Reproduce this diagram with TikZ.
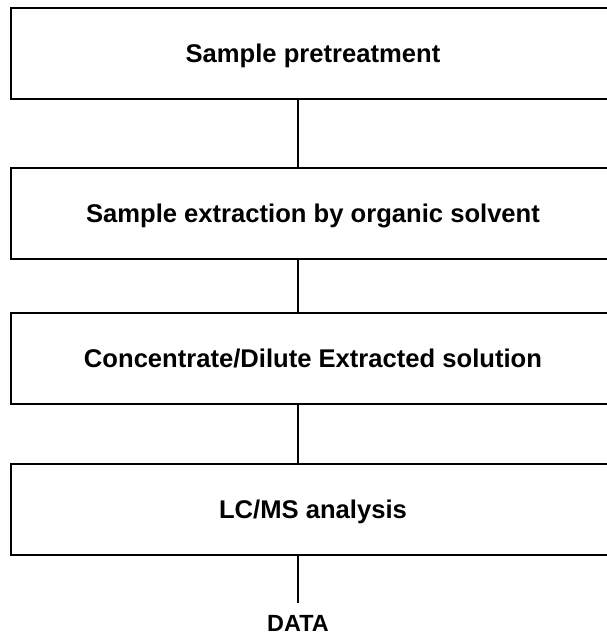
\documentclass[tikz,border=0pt]{standalone}
\usepackage{fontspec}
\setmainfont{Liberation Sans}
\begin{document}
\begin{tikzpicture}[x=1pt,y=-1pt,
  stepbox/.style={draw=black, line width=2pt, minimum width=604pt, minimum height=91pt,
    inner sep=0pt, text height=18.3pt, text depth=0pt,
    font=\fontsize{25.6}{30}\selectfont\bfseries},
  endlabel/.style={inner xsep=0pt, inner ysep=0pt, text height=16.8pt, text depth=0pt,
    font=\fontsize{23.4}{28}\selectfont\bfseries},
  link/.style={draw=black, line width=2pt}]
\clip (0,0) rectangle (607,638);
\node[stepbox] (b1) at (313,53.5) {Sample pretreatment};
\node[stepbox] (b2) at (313,213.5) {Sample extraction by organic solvent};
\node[stepbox] (b3) at (313,358) {Concentrate/Dilute Extracted solution};
\node[stepbox] (b4) at (313,509.5) {LC/MS analysis};
\node[endlabel] (data) at (298,623) {DATA};
\coordinate (dtop) at (298,603);
\draw[link] (b1.south -| data) -- (b2.north -| data);
\draw[link] (b2.south -| data) -- (b3.north -| data);
\draw[link] (b3.south -| data) -- (b4.north -| data);
\draw[link] (b4.south -| data) -- (dtop);
\end{tikzpicture}
\end{document}
